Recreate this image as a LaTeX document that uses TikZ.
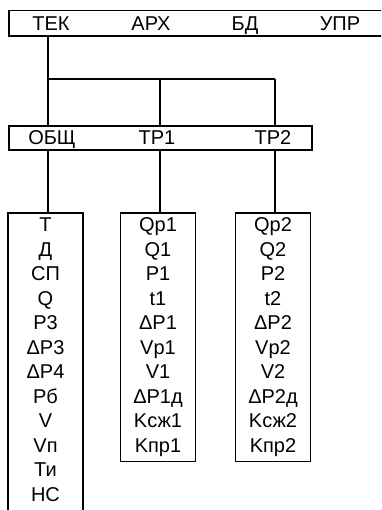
\documentclass[tikz,border=0pt]{standalone}
\usepackage{fontspec}
\setmainfont{Liberation Sans}
\usetikzlibrary{positioning}
\tikzset{
  bar/.style={draw, line width=1.8pt, anchor=north west, inner sep=0pt},
  tag/.style={anchor=base, inner sep=0pt, font=\fontsize{20}{24.5}\selectfont},
  list/.style={draw, line width=1.8pt, anchor=north, align=center, minimum width=75pt, inner xsep=2pt, inner ysep=5pt, font=\fontsize{20}{24.5}\selectfont},
  link/.style={line width=1.8pt}
}
\begin{document}
\begin{tikzpicture}[x=1pt, y=-1pt]
\clip (0,0) rectangle (381,510);
% top bar
\node[bar, minimum width=390pt, minimum height=25.3pt] (top) at (8,9.7) {};
\node[tag] (tek) at (51,31) {ТЕК};
\node[tag] (arh) at (151,31) {АРХ};
\node[tag] (bd) at (245,31) {БД};
\node[tag] (upr) at (340,31) {УПР};
% second bar
\node[bar, minimum width=303pt, minimum height=24.3pt] (grp) at (8,125) {};
\node[tag] (obsch) at (52,145) {ОБЩ};
\node[tag] (tr1) at (157,145) {ТР1};
\node[tag] (tr2) at (273,145) {ТР2};
% lists
\node[list, text depth=330pt] (list0) at (45.5,212) {Т\\Д\\СП\\Q\\Р3\\ΔР3\\ΔР4\\Рб\\V\\Vп\\Ти\\НС};
\node[list] (list1) at (158,212) {Qр1\\Q1\\Р1\\t1\\ΔР1\\Vр1\\V1\\ΔР1д\\Kсж1\\Kпр1};
\node[list] (list2) at (273,212) {Qр2\\Q2\\Р2\\t2\\ΔР2\\Vр2\\V2\\ΔР2д\\Kсж2\\Kпр2};
% links
\coordinate (j0) at (48,79);
\coordinate (j1) at (160,79);
\coordinate (j2) at (275,79);
\draw[link] (top.south -| j0) -- (j0) -- (j2);
\draw[link] (j0) -- (grp.north -| j0);
\draw[link] (j1) -- (grp.north -| j1);
\draw[link] (j2) -- (grp.north -| j2);
\draw[link] (grp.south -| j0) -- (list0.north -| j0);
\draw[link] (grp.south -| j1) -- (list1.north -| j1);
\draw[link] (grp.south -| j2) -- (list2.north -| j2);
\end{tikzpicture}
\end{document}
